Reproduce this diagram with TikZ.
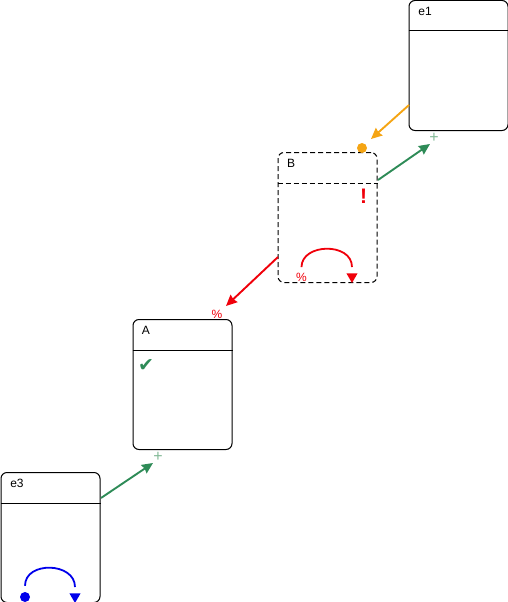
\documentclass[tikz,border=0pt]{standalone}
\usepackage{fontspec}
\setmainfont{Liberation Sans}
\newfontfamily\symfont{DejaVu Sans}
\usetikzlibrary{arrows.meta,calc,shapes.geometric}
\definecolor{linkgreen}{RGB}{46,139,87}
\definecolor{plusgreen}{RGB}{130,185,150}
\definecolor{linkorange}{RGB}{245,165,20}
\definecolor{markred}{RGB}{240,0,10}
\definecolor{markblue}{RGB}{0,0,235}

\begin{document}
\begin{tikzpicture}[
        x=1pt,
        y=-1pt,
        state/.style={
            rectangle,
            draw,
            line width=1pt,
            rounded corners=6pt,
            minimum width=99pt,
            minimum height=130pt,
            inner sep=0pt
        },
        title/.style={
            font=\fontsize{12}{14}\selectfont,
            inner sep=0pt
        },
        divider/.style={
            line width=1pt
        },
        arrow/.style={
            -{Stealth[length=11pt,width=10pt,inset=1pt]},
            line width=1.9pt
        },
        loopline/.style={
            line width=1.8pt,
            shorten <=6pt,
            shorten >=6pt
        },
        plusmark/.style={
            text=plusgreen,
            font=\fontsize{16}{16}\selectfont,
            inner sep=0pt
        },
        percent/.style={
            text=markred,
            font=\fontsize{12}{12}\selectfont,
            inner sep=0pt
        },
        downtip/.style={
            regular polygon,
            regular polygon sides=3,
            shape border rotate=180,
            minimum size=13pt,
            inner sep=0pt
        },
        dot/.style={
            circle,
            minimum size=10pt,
            inner sep=0pt
        }
    ]

        \useasboundingbox (0,0) rectangle (508,602);

        % boxes
        \node[state] (e1) at (458.5,65.5) {};
        \node[state,dashed,dash pattern=on 5pt off 3pt] (B) at (327.5,217.5) {};
        \node[state] (A) at (182.5,384.5) {};
        \node[state] (e3) at (50.5,537.5) {};

        \draw[divider] ($(e1.north west)+(0,31)$) -- ($(e1.north east)+(0,31)$);
        \draw[divider,dashed,dash pattern=on 5pt off 3pt] ($(B.north west)+(0,31)$) -- ($(B.north east)+(0,31)$);
        \draw[divider] ($(A.north west)+(0,31)$) -- ($(A.north east)+(0,31)$);
        \draw[divider] ($(e3.north west)+(0,31)$) -- ($(e3.north east)+(0,31)$);

        \node[title] (e1title) at (425,11) {e1};
        \node[title] (Btitle) at (291,163) {B};
        \node[title] (Atitle) at (146,330) {A};
        \node[title] (e3title) at (17,483) {e3};

        % marks
        \node[dot,fill=linkorange] (Bdot) at (362,148) {};
        \node[plusmark] (e1plus) at (434,138) {+};
        \node[plusmark] (Aplus) at (158,456.5) {+};
        \node[percent] (Apct) at (217,314.5) {\%};
        \node[text=markred,font=\fontsize{21}{21}\selectfont\bfseries,inner sep=0pt] (Bwarn) at (363.5,196) {!};
        \node[text=linkgreen,font=\symfont\fontsize{19}{19}\selectfont,inner sep=0pt] (Acheck) at (146,366) {✔};

        \node[percent] (Bpct) at (301.5,277.5) {\%};
        \node[downtip,fill=markred] (Btip) at (352,276.5) {};
        \node[dot,fill=markblue] (e3dot) at (25,597) {};
        \node[downtip,fill=markblue] (e3tip) at (75,596.5) {};

        % connector ends
        \coordinate (e1out) at (409,105);
        \coordinate (Bin) at (371,139);
        \coordinate (Bout) at (378,180);
        \coordinate (e1in) at (430,144);
        \coordinate (Boutleft) at (278,257);
        \coordinate (Ain) at (226,306);
        \coordinate (e3out) at (101,498);
        \coordinate (Aplusin) at (153,463);

        \draw[arrow,linkorange] (e1out) -- (Bin);
        \draw[arrow,linkgreen] (Bout) -- (e1in);
        \draw[arrow,markred] (Boutleft) -- (Ain);
        \draw[arrow,linkgreen] (e3out) -- (Aplusin);

        \draw[loopline,markred] (Bpct.north) .. controls +(0,-30) and +(0,-31) .. (Btip.north);
        \draw[loopline,markblue] (e3dot.north) .. controls +(0,-31) and +(0,-31) .. (e3tip.north);

    \end{tikzpicture}
\end{document}
